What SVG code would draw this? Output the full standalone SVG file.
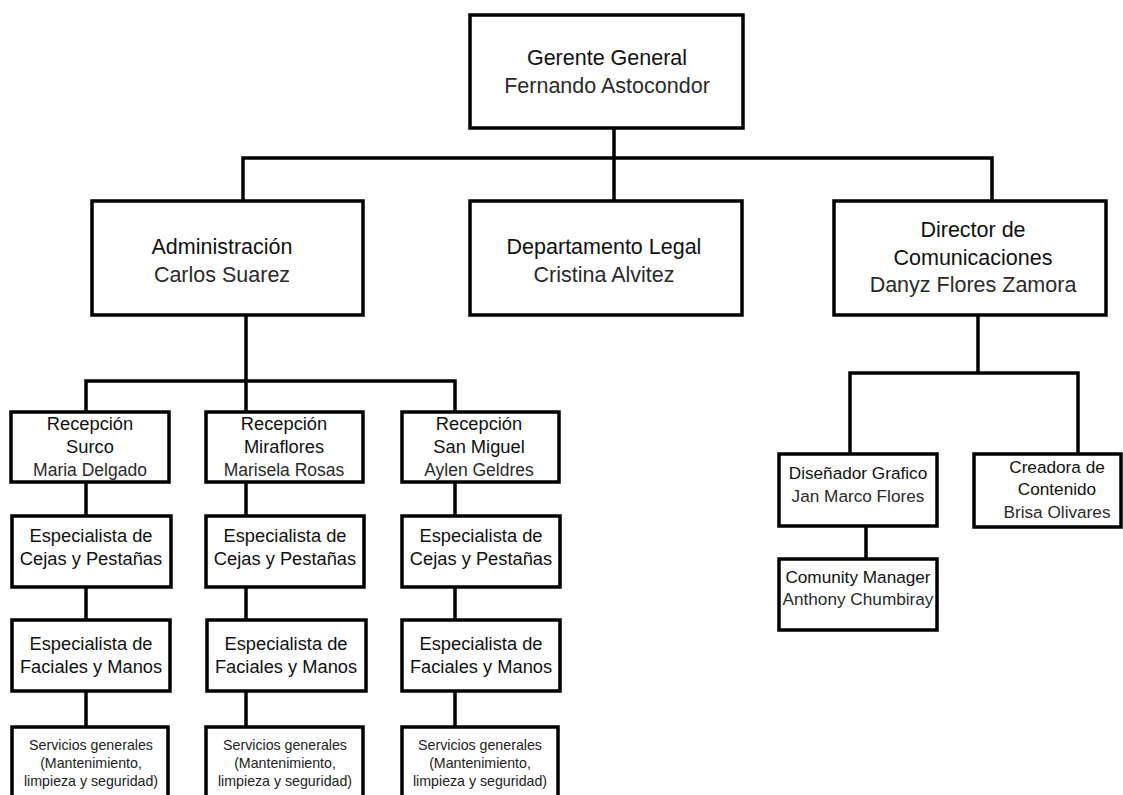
<svg xmlns="http://www.w3.org/2000/svg" width="1123" height="795" viewBox="0 0 1123 795">
<style>
.box{fill:#fff;stroke:#000;stroke-width:3.5}
.ln{fill:none;stroke:#000;stroke-width:3.5;stroke-linecap:square}
text{font-family:"Liberation Sans",Arial,sans-serif;text-anchor:middle}
.t1{font-size:21.5px;fill:#111}
.n1{font-size:21.5px;fill:#2a2a2a}
.t2{font-size:18.3px;fill:#111}
.n2{font-size:17.5px;fill:#2a2a2a}
.t3{font-size:17.2px;fill:#111}
.n3{font-size:17.2px;fill:#2a2a2a}
.s{font-size:14.2px;fill:#222}
</style>
<rect width="1123" height="795" fill="#fff"/>
<g id="connectors">
<path class="ln" d="M614,128V201M243,158H992M243,158V201M992,158V201"/>
<path class="ln" d="M246,315V412M86,381H455M86,381V412M455,381V412"/>
<path class="ln" d="M86,482V516M86,587V620M86,691V727"/>
<path class="ln" d="M246,482V516M246,587V620M246,691V727"/>
<path class="ln" d="M455,482V516M455,587V620M455,691V727"/>
<path class="ln" d="M978,315V373M850,373H1078M850,373V454M1078,373V454M866,526V559"/>
</g>
<g id="gerente"><rect class="box" x="470" y="15" width="273" height="113"/><text class="t1" x="607" y="65">Gerente General</text><text class="n1" x="607" y="93">Fernando Astocondor</text></g>
<g id="administracion"><rect class="box" x="92" y="201" width="271" height="114"/><text class="t1" x="222" y="254">Administración</text><text class="n1" x="222" y="282">Carlos Suarez</text></g>
<g id="legal"><rect class="box" x="470" y="201" width="272" height="114"/><text class="t1" x="604" y="254">Departamento Legal</text><text class="n1" x="604" y="282">Cristina Alvitez</text></g>
<g id="director"><rect class="box" x="834" y="201" width="272" height="114"/><text class="t1" x="973" y="237">Director de</text><text class="t1" x="973" y="265">Comunicaciones</text><text class="n1" x="973" y="292">Danyz Flores Zamora</text></g>
<g id="recepcion-surco"><rect class="box" x="11" y="412" width="158" height="70"/><text class="t2" x="90" y="430">Recepción</text><text class="t2" x="90" y="453">Surco</text><text class="n2" x="90" y="476">Maria Delgado</text></g>
<g id="recepcion-miraflores"><rect class="box" x="206" y="412" width="157" height="70"/><text class="t2" x="284" y="430">Recepción</text><text class="t2" x="284" y="453">Miraflores</text><text class="n2" x="284" y="476">Marisela Rosas</text></g>
<g id="recepcion-sanmiguel"><rect class="box" x="402" y="412" width="157" height="70"/><text class="t2" x="479" y="430">Recepción</text><text class="t2" x="479" y="453">San Miguel</text><text class="n2" x="479" y="476">Aylen Geldres</text></g>
<g id="cejas-surco"><rect class="box" x="12" y="516" width="159" height="71"/><text class="t2" x="91" y="542">Especialista de</text><text class="t2" x="91" y="565">Cejas y Pestañas</text></g>
<g id="cejas-miraflores"><rect class="box" x="206" y="516" width="158" height="71"/><text class="t2" x="285" y="542">Especialista de</text><text class="t2" x="285" y="565">Cejas y Pestañas</text></g>
<g id="cejas-sanmiguel"><rect class="box" x="402" y="516" width="158" height="71"/><text class="t2" x="481" y="542">Especialista de</text><text class="t2" x="481" y="565">Cejas y Pestañas</text></g>
<g id="faciales-surco"><rect class="box" x="12" y="620" width="158" height="71"/><text class="t2" x="91" y="650">Especialista de</text><text class="t2" x="91" y="673">Faciales y Manos</text></g>
<g id="faciales-miraflores"><rect class="box" x="207" y="620" width="159" height="71"/><text class="t2" x="286" y="650">Especialista de</text><text class="t2" x="286" y="673">Faciales y Manos</text></g>
<g id="faciales-sanmiguel"><rect class="box" x="402" y="620" width="158" height="71"/><text class="t2" x="481" y="650">Especialista de</text><text class="t2" x="481" y="673">Faciales y Manos</text></g>
<g id="servicios-surco"><rect class="box" x="12" y="727" width="156" height="80"/><text class="s" x="91" y="750">Servicios generales</text><text class="s" x="91" y="768">(Mantenimiento,</text><text class="s" x="91" y="786">limpieza y seguridad)</text></g>
<g id="servicios-miraflores"><rect class="box" x="206" y="727" width="157" height="80"/><text class="s" x="285" y="750">Servicios generales</text><text class="s" x="285" y="768">(Mantenimiento,</text><text class="s" x="285" y="786">limpieza y seguridad)</text></g>
<g id="servicios-sanmiguel"><rect class="box" x="402" y="727" width="156" height="80"/><text class="s" x="480" y="750">Servicios generales</text><text class="s" x="480" y="768">(Mantenimiento,</text><text class="s" x="480" y="786">limpieza y seguridad)</text></g>
<g id="disenador"><rect class="box" x="779" y="454" width="158" height="72"/><text class="t3" x="858" y="479">Diseñador Grafico</text><text class="n3" x="858" y="502">Jan Marco Flores</text></g>
<g id="creadora"><rect class="box" x="974" y="454" width="147" height="73"/><text class="t3" x="1057" y="473">Creadora de</text><text class="t3" x="1057" y="495">Contenido</text><text class="n3" x="1057" y="518">Brisa Olivares</text></g>
<g id="comunity"><rect class="box" x="779" y="559" width="158" height="71"/><text class="t3" x="858" y="583">Comunity Manager</text><text class="n3" x="858" y="605">Anthony Chumbiray</text></g>
</svg>
